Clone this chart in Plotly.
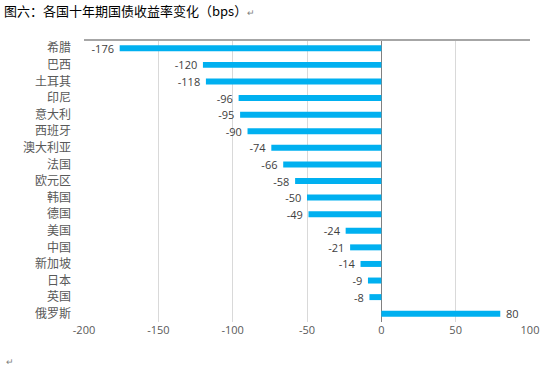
import plotly.graph_objects as go

countries = ["希腊", "巴西", "土耳其", "印尼", "意大利", "西班牙", "澳大利亚", "法国", "欧元区",
             "韩国", "德国", "美国", "中国", "新加坡", "日本", "英国", "俄罗斯"]
changes = [-176, -120, -118, -96, -95, -90, -74, -66, -58, -50, -49, -24, -21, -14, -9, -8, 80]
x_ticks = [-200, -150, -100, -50, 0, 50, 100]

pad = "\u00a0\u00a0"
labels = [(str(v) + pad) if v < 0 else (pad + str(v)) for v in changes]

fig = go.Figure()
fig.add_trace(go.Bar(
    y=countries, x=changes, orientation="h",
    marker=dict(color="#00B0F0", line=dict(width=0)),
    text=labels, textposition="outside", constraintext="none",
    textfont=dict(family="Open Sans, DejaVu Sans", size=11, color="#404040"),
    cliponaxis=False, hoverinfo="skip",
))

fig.update_layout(
    width=558, height=367,
    margin=dict(l=84, r=28, t=40, b=45, autoexpand=False),
    paper_bgcolor="white", plot_bgcolor="white",
    showlegend=False, bargap=0.64,
    font=dict(family="Noto Sans CJK SC", size=12, color="#595959"),
    xaxis=dict(range=[-200, 100], tickvals=x_ticks, ticktext=[str(v) for v in x_ticks],
               showgrid=True, gridcolor="#D9D9D9", gridwidth=1,
               zeroline=True, zerolinecolor="#808080", zerolinewidth=1,
               showline=False, ticks="", automargin=False,
               tickfont=dict(family="Open Sans, DejaVu Sans", size=11, color="#595959")),
    yaxis=dict(autorange="reversed", showgrid=False, zeroline=False, ticks="",
               ticklabelstandoff=12, automargin=False,
               tickfont=dict(family="Noto Sans CJK SC", size=12, color="#595959")),
    shapes=[dict(type="line", xref="paper", yref="paper", x0=0, x1=1, y0=1, y1=1,
                 line=dict(color="#A6A6A6", width=2))],
    annotations=[
        dict(text="图六：各国十年期国债收益率变化（bps）<span style='font-size:9px;color:#808080'>↵</span>",
             xref="paper", yref="paper", x=-82/446, y=1, xanchor="left", yanchor="middle",
             yshift=30, showarrow=False,
             font=dict(family="Noto Sans CJK SC", size=13, color="#000000")),
        dict(text="↵", xref="paper", yref="paper", x=-80/446, y=0, xanchor="left", yanchor="middle",
             yshift=-39, showarrow=False, font=dict(size=9, color="#808080")),
    ],
)

fig.write_html("out.html", config={"displayModeBar": False},
               post_script="document.body.style.margin='0';")
